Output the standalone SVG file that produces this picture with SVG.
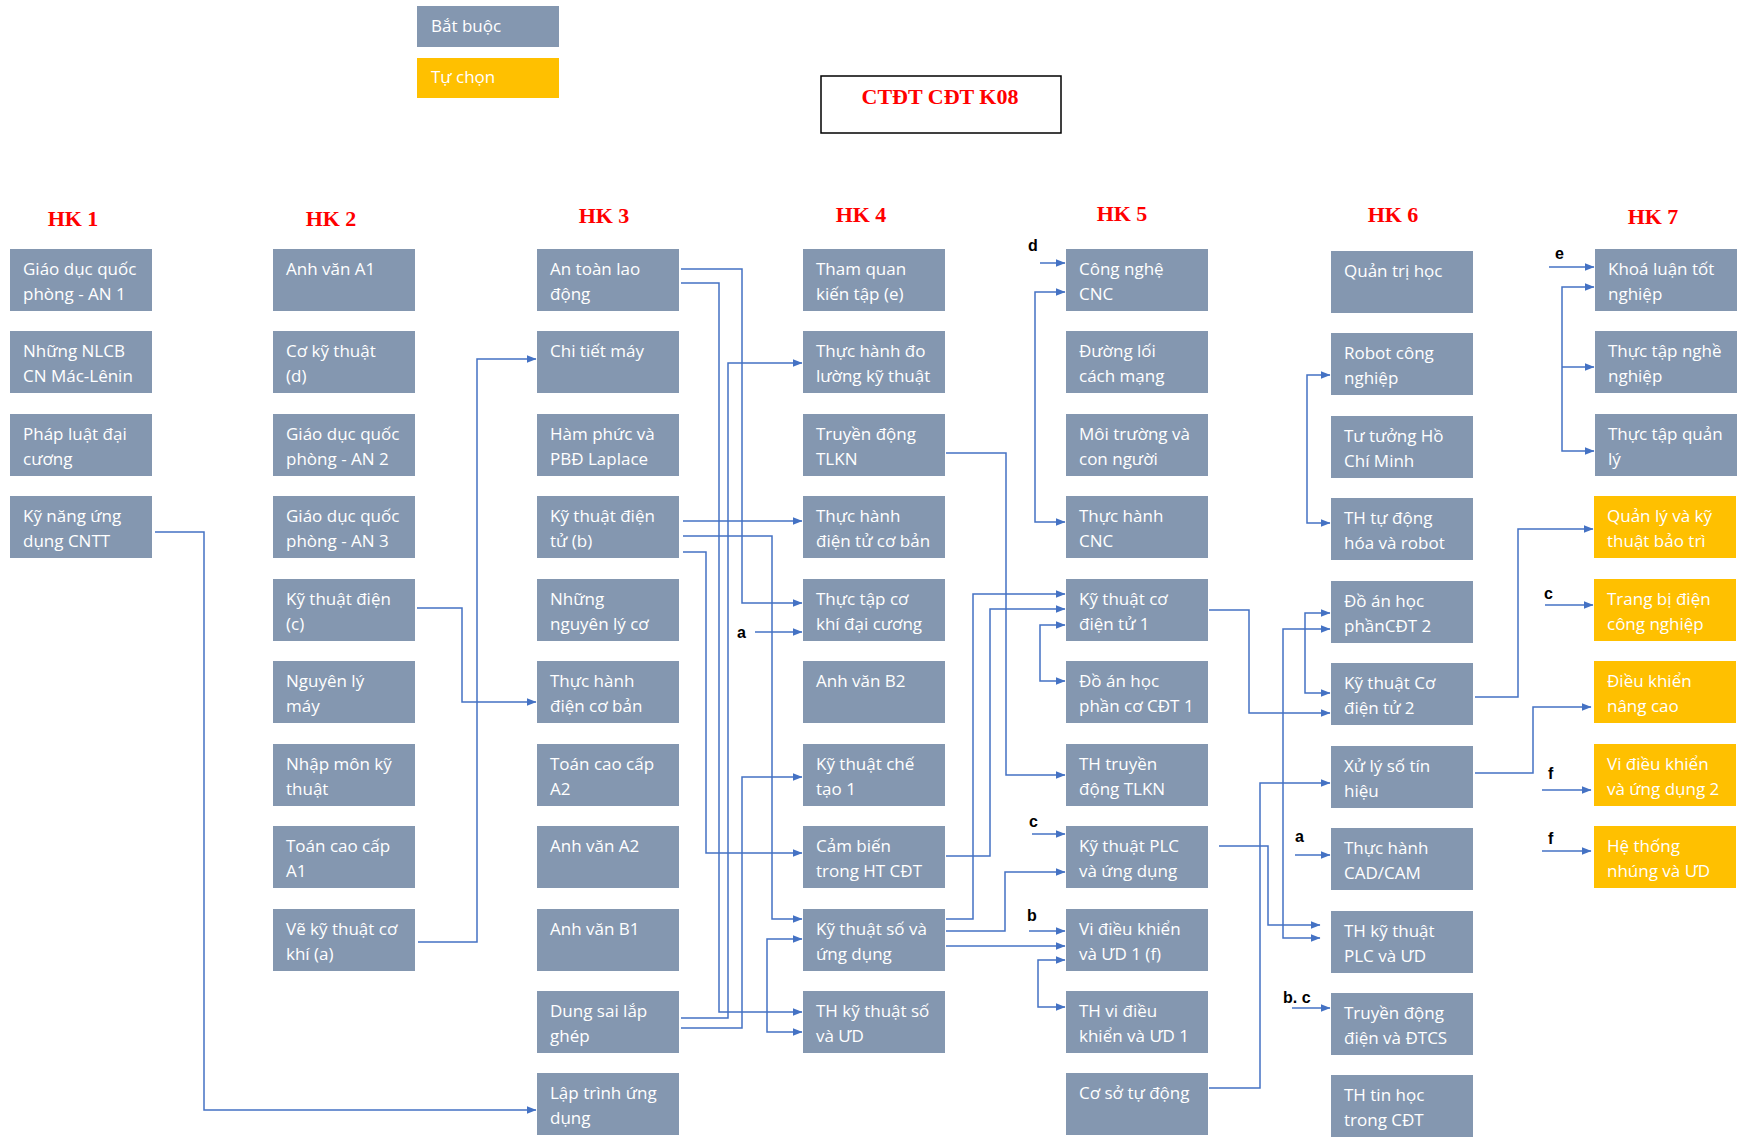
<svg xmlns="http://www.w3.org/2000/svg" width="1740" height="1138" viewBox="0 0 1740 1138">
<style>
.n rect{fill:#8497B0}
.o rect{fill:#FFC000}
.n text,.o text,.lg text{font-family:"Open Sans","Noto Sans","DejaVu Sans",sans-serif;font-size:17px;fill:#FFFFFF}
.hk{font-family:"Liberation Serif","Times New Roman",serif;font-weight:bold;font-size:22px;fill:#FF0000;text-anchor:middle}
.lb{font-family:"Liberation Sans",Arial,sans-serif;font-weight:bold;font-size:16px;fill:#000000}
.conn path{fill:none;stroke:#4472C4;stroke-width:1.5;marker-end:url(#arr)}
</style>
<defs>
<marker id="arr" markerUnits="userSpaceOnUse" markerWidth="10" markerHeight="8" refX="9.5" refY="4" orient="auto">
<path d="M0,0 L10,4 L0,8 z" fill="#4472C4"/>
</marker>
</defs>
<rect width="1740" height="1138" fill="#FFFFFF"/>

<!-- Legend -->
<g id="legend" class="lg">
<rect x="417" y="6" width="142" height="41" fill="#8497B0"/>
<text x="431" y="32">Bắt buộc</text>
<rect x="417" y="58" width="142" height="40" fill="#FFC000"/>
<text x="431" y="83">Tự chọn</text>
</g>

<!-- Title -->
<g id="title">
<rect x="821" y="76" width="240" height="57" fill="#FFFFFF" stroke="#000000" stroke-width="1.5"/>
<text class="hk" x="940" y="104">CTĐT CĐT K08</text>
</g>

<!-- Semester headers -->
<g id="headers">
<text class="hk" x="73" y="226">HK 1</text>
<text class="hk" x="331" y="226">HK 2</text>
<text class="hk" x="604" y="223">HK 3</text>
<text class="hk" x="861" y="222">HK 4</text>
<text class="hk" x="1122" y="221">HK 5</text>
<text class="hk" x="1393" y="222">HK 6</text>
<text class="hk" x="1653" y="224">HK 7</text>
</g>

<!-- HK1 -->
<g id="hk1-1" class="n" transform="translate(10,249)"><rect width="142" height="62"/><text x="13" y="26">Giáo dục quốc</text><text x="13" y="51">phòng - AN 1</text></g>
<g id="hk1-2" class="n" transform="translate(10,331)"><rect width="142" height="62"/><text x="13" y="26">Những NLCB</text><text x="13" y="51">CN Mác-Lênin</text></g>
<g id="hk1-3" class="n" transform="translate(10,414)"><rect width="142" height="62"/><text x="13" y="26">Pháp luật đại</text><text x="13" y="51">cương</text></g>
<g id="hk1-4" class="n" transform="translate(10,496)"><rect width="142" height="62"/><text x="13" y="26">Kỹ năng ứng</text><text x="13" y="51">dụng CNTT</text></g>

<!-- HK2 -->
<g id="hk2-1" class="n" transform="translate(273,249)"><rect width="142" height="62"/><text x="13" y="26">Anh văn A1</text></g>
<g id="hk2-2" class="n" transform="translate(273,331)"><rect width="142" height="62"/><text x="13" y="26">Cơ kỹ thuật</text><text x="13" y="51">(d)</text></g>
<g id="hk2-3" class="n" transform="translate(273,414)"><rect width="142" height="62"/><text x="13" y="26">Giáo dục quốc</text><text x="13" y="51">phòng - AN 2</text></g>
<g id="hk2-4" class="n" transform="translate(273,496)"><rect width="142" height="62"/><text x="13" y="26">Giáo dục quốc</text><text x="13" y="51">phòng - AN 3</text></g>
<g id="hk2-5" class="n" transform="translate(273,579)"><rect width="142" height="62"/><text x="13" y="26">Kỹ thuật điện</text><text x="13" y="51">(c)</text></g>
<g id="hk2-6" class="n" transform="translate(273,661)"><rect width="142" height="62"/><text x="13" y="26">Nguyên lý</text><text x="13" y="51">máy</text></g>
<g id="hk2-7" class="n" transform="translate(273,744)"><rect width="142" height="62"/><text x="13" y="26">Nhập môn kỹ</text><text x="13" y="51">thuật</text></g>
<g id="hk2-8" class="n" transform="translate(273,826)"><rect width="142" height="62"/><text x="13" y="26">Toán cao cấp</text><text x="13" y="51">A1</text></g>
<g id="hk2-9" class="n" transform="translate(273,909)"><rect width="142" height="62"/><text x="13" y="26">Vẽ kỹ thuật cơ</text><text x="13" y="51">khí (a)</text></g>

<!-- HK3 -->
<g id="hk3-1" class="n" transform="translate(537,249)"><rect width="142" height="62"/><text x="13" y="26">An toàn lao</text><text x="13" y="51">động</text></g>
<g id="hk3-2" class="n" transform="translate(537,331)"><rect width="142" height="62"/><text x="13" y="26">Chi tiết máy</text></g>
<g id="hk3-3" class="n" transform="translate(537,414)"><rect width="142" height="62"/><text x="13" y="26">Hàm phức và</text><text x="13" y="51">PBĐ Laplace</text></g>
<g id="hk3-4" class="n" transform="translate(537,496)"><rect width="142" height="62"/><text x="13" y="26">Kỹ thuật điện</text><text x="13" y="51">tử (b)</text></g>
<g id="hk3-5" class="n" transform="translate(537,579)"><rect width="142" height="62"/><text x="13" y="26">Những</text><text x="13" y="51">nguyên lý cơ</text></g>
<g id="hk3-6" class="n" transform="translate(537,661)"><rect width="142" height="62"/><text x="13" y="26">Thực hành</text><text x="13" y="51">điện cơ bản</text></g>
<g id="hk3-7" class="n" transform="translate(537,744)"><rect width="142" height="62"/><text x="13" y="26">Toán cao cấp</text><text x="13" y="51">A2</text></g>
<g id="hk3-8" class="n" transform="translate(537,826)"><rect width="142" height="62"/><text x="13" y="26">Anh văn A2</text></g>
<g id="hk3-9" class="n" transform="translate(537,909)"><rect width="142" height="62"/><text x="13" y="26">Anh văn B1</text></g>
<g id="hk3-10" class="n" transform="translate(537,991)"><rect width="142" height="62"/><text x="13" y="26">Dung sai lắp</text><text x="13" y="51">ghép</text></g>
<g id="hk3-11" class="n" transform="translate(537,1073)"><rect width="142" height="62"/><text x="13" y="26">Lập trình ứng</text><text x="13" y="51">dụng</text></g>

<!-- HK4 -->
<g id="hk4-1" class="n" transform="translate(803,249)"><rect width="142" height="62"/><text x="13" y="26">Tham quan</text><text x="13" y="51">kiến tập (e)</text></g>
<g id="hk4-2" class="n" transform="translate(803,331)"><rect width="142" height="62"/><text x="13" y="26">Thực hành đo</text><text x="13" y="51">lường kỹ thuật</text></g>
<g id="hk4-3" class="n" transform="translate(803,414)"><rect width="142" height="62"/><text x="13" y="26">Truyền động</text><text x="13" y="51">TLKN</text></g>
<g id="hk4-4" class="n" transform="translate(803,496)"><rect width="142" height="62"/><text x="13" y="26">Thực hành</text><text x="13" y="51">điện tử cơ bản</text></g>
<g id="hk4-5" class="n" transform="translate(803,579)"><rect width="142" height="62"/><text x="13" y="26">Thực tập cơ</text><text x="13" y="51">khí đại cương</text></g>
<g id="hk4-6" class="n" transform="translate(803,661)"><rect width="142" height="62"/><text x="13" y="26">Anh văn B2</text></g>
<g id="hk4-7" class="n" transform="translate(803,744)"><rect width="142" height="62"/><text x="13" y="26">Kỹ thuật chế</text><text x="13" y="51">tạo 1</text></g>
<g id="hk4-8" class="n" transform="translate(803,826)"><rect width="142" height="62"/><text x="13" y="26">Cảm biến</text><text x="13" y="51">trong HT CĐT</text></g>
<g id="hk4-9" class="n" transform="translate(803,909)"><rect width="142" height="62"/><text x="13" y="26">Kỹ thuật số và</text><text x="13" y="51">ứng dụng</text></g>
<g id="hk4-10" class="n" transform="translate(803,991)"><rect width="142" height="62"/><text x="13" y="26">TH kỹ thuật số</text><text x="13" y="51">và ƯD</text></g>

<!-- HK5 -->
<g id="hk5-1" class="n" transform="translate(1066,249)"><rect width="142" height="62"/><text x="13" y="26">Công nghệ</text><text x="13" y="51">CNC</text></g>
<g id="hk5-2" class="n" transform="translate(1066,331)"><rect width="142" height="62"/><text x="13" y="26">Đường lối</text><text x="13" y="51">cách mạng</text></g>
<g id="hk5-3" class="n" transform="translate(1066,414)"><rect width="142" height="62"/><text x="13" y="26">Môi trường và</text><text x="13" y="51">con người</text></g>
<g id="hk5-4" class="n" transform="translate(1066,496)"><rect width="142" height="62"/><text x="13" y="26">Thực hành</text><text x="13" y="51">CNC</text></g>
<g id="hk5-5" class="n" transform="translate(1066,579)"><rect width="142" height="62"/><text x="13" y="26">Kỹ thuật cơ</text><text x="13" y="51">điện tử 1</text></g>
<g id="hk5-6" class="n" transform="translate(1066,661)"><rect width="142" height="62"/><text x="13" y="26">Đồ án học</text><text x="13" y="51">phần cơ CĐT 1</text></g>
<g id="hk5-7" class="n" transform="translate(1066,744)"><rect width="142" height="62"/><text x="13" y="26">TH truyền</text><text x="13" y="51">động TLKN</text></g>
<g id="hk5-8" class="n" transform="translate(1066,826)"><rect width="142" height="62"/><text x="13" y="26">Kỹ thuật PLC</text><text x="13" y="51">và ứng dụng</text></g>
<g id="hk5-9" class="n" transform="translate(1066,909)"><rect width="142" height="62"/><text x="13" y="26">Vi điều khiển</text><text x="13" y="51">và ƯD 1 (f)</text></g>
<g id="hk5-10" class="n" transform="translate(1066,991)"><rect width="142" height="62"/><text x="13" y="26">TH vi điều</text><text x="13" y="51">khiển và ƯD 1</text></g>
<g id="hk5-11" class="n" transform="translate(1066,1073)"><rect width="142" height="62"/><text x="13" y="26">Cơ sở tự động</text></g>

<!-- HK6 -->
<g id="hk6-1" class="n" transform="translate(1331,251)"><rect width="142" height="62"/><text x="13" y="26">Quản trị học</text></g>
<g id="hk6-2" class="n" transform="translate(1331,333)"><rect width="142" height="62"/><text x="13" y="26">Robot công</text><text x="13" y="51">nghiệp</text></g>
<g id="hk6-3" class="n" transform="translate(1331,416)"><rect width="142" height="62"/><text x="13" y="26">Tư tưởng Hồ</text><text x="13" y="51">Chí Minh</text></g>
<g id="hk6-4" class="n" transform="translate(1331,498)"><rect width="142" height="62"/><text x="13" y="26">TH tự động</text><text x="13" y="51">hóa và robot</text></g>
<g id="hk6-5" class="n" transform="translate(1331,581)"><rect width="142" height="62"/><text x="13" y="26">Đồ án học</text><text x="13" y="51">phầnCĐT 2</text></g>
<g id="hk6-6" class="n" transform="translate(1331,663)"><rect width="142" height="62"/><text x="13" y="26">Kỹ thuật Cơ</text><text x="13" y="51">điện tử 2</text></g>
<g id="hk6-7" class="n" transform="translate(1331,746)"><rect width="142" height="62"/><text x="13" y="26">Xử lý số tín</text><text x="13" y="51">hiệu</text></g>
<g id="hk6-8" class="n" transform="translate(1331,828)"><rect width="142" height="62"/><text x="13" y="26">Thực hành</text><text x="13" y="51">CAD/CAM</text></g>
<g id="hk6-9" class="n" transform="translate(1331,911)"><rect width="142" height="62"/><text x="13" y="26">TH kỹ thuật</text><text x="13" y="51">PLC và ƯD</text></g>
<g id="hk6-10" class="n" transform="translate(1331,993)"><rect width="142" height="62"/><text x="13" y="26">Truyền động</text><text x="13" y="51">điện và ĐTCS</text></g>
<g id="hk6-11" class="n" transform="translate(1331,1075)"><rect width="142" height="62"/><text x="13" y="26">TH tin học</text><text x="13" y="51">trong CĐT</text></g>

<!-- HK7 -->
<g id="hk7-1" class="n" transform="translate(1595,249)"><rect width="142" height="62"/><text x="13" y="26">Khoá luận tốt</text><text x="13" y="51">nghiệp</text></g>
<g id="hk7-2" class="n" transform="translate(1595,331)"><rect width="142" height="62"/><text x="13" y="26">Thực tập nghề</text><text x="13" y="51">nghiệp</text></g>
<g id="hk7-3" class="n" transform="translate(1595,414)"><rect width="142" height="62"/><text x="13" y="26">Thực tập quản</text><text x="13" y="51">lý</text></g>
<g id="hk7-4" class="o" transform="translate(1594,496)"><rect width="142" height="62"/><text x="13" y="26">Quản lý và kỹ</text><text x="13" y="51">thuật bảo trì</text></g>
<g id="hk7-5" class="o" transform="translate(1594,579)"><rect width="142" height="62"/><text x="13" y="26">Trang bị điện</text><text x="13" y="51">công nghiệp</text></g>
<g id="hk7-6" class="o" transform="translate(1594,661)"><rect width="142" height="62"/><text x="13" y="26">Điều khiển</text><text x="13" y="51">nâng cao</text></g>
<g id="hk7-7" class="o" transform="translate(1594,744)"><rect width="142" height="62"/><text x="13" y="26">Vi điều khiển</text><text x="13" y="51">và ứng dụng 2</text></g>
<g id="hk7-8" class="o" transform="translate(1594,826)"><rect width="142" height="62"/><text x="13" y="26">Hệ thống</text><text x="13" y="51">nhúng và ƯD</text></g>

<!-- Connectors -->
<g id="connectors" class="conn">
<path d="M155,532 H204 V1110 H536"/>
<path d="M417,608 H462 V702 H536"/>
<path d="M418,942 H477 V359 H536"/>

<path d="M681,269 H742 V603 H802"/>
<path d="M681,283 H719 V1012 H802"/>
<path d="M683,521 H802"/>
<path d="M683,536 H772 V919 H802"/>
<path d="M683,552 H706 V853 H802"/>
<path d="M681,1018 H728 V363 H802"/>
<path d="M681,1028 H742 V777 H802"/>
<path d="M767,985 V939 H802"/>
<path d="M767,985 V1032 H802"/>
<path d="M755,632 H802"/>

<path d="M1040,263 H1065"/>
<path d="M1035,400 V292 H1065"/>
<path d="M1035,400 V522 H1065"/>
<path d="M946,453 H1006 V775 H1065"/>
<path d="M946,919 H973 V594 H1065"/>
<path d="M946,856 H990 V609 H1065"/>
<path d="M1040,650 V625 H1065"/>
<path d="M1040,650 V681 H1065"/>
<path d="M946,931 H1005 V872 H1065"/>
<path d="M946,946 H1065"/>
<path d="M1032,834 H1065"/>
<path d="M1029,931 H1065"/>
<path d="M1038,985 V960 H1065"/>
<path d="M1038,985 V1007 H1065"/>

<path d="M1209,610 H1249 V713 H1330"/>
<path d="M1305,650 V613 H1330"/>
<path d="M1305,650 V693 H1330"/>
<path d="M1283,780 V629 H1330"/>
<path d="M1283,780 V938 H1320"/>
<path d="M1219,846 H1268 V925 H1320"/>
<path d="M1209,1088 H1260 V783 H1330"/>
<path d="M1307,450 V375 H1330"/>
<path d="M1307,450 V523 H1330"/>
<path d="M1295,855 H1330"/>
<path d="M1292,1008 H1330"/>

<path d="M1475,697 H1518 V529 H1593"/>
<path d="M1475,773 H1533 V707 H1591"/>
<path d="M1549,267 H1594"/>
<path d="M1562,367 V287 H1594"/>
<path d="M1562,367 H1594"/>
<path d="M1562,367 V451 H1594"/>
<path d="M1545,605 H1593"/>
<path d="M1542,790 H1591"/>
<path d="M1542,851 H1591"/>
</g>

<!-- Connector labels -->
<g id="labels">
<text class="lb" x="1028" y="251">d</text>
<text class="lb" x="737" y="638">a</text>
<text class="lb" x="1029" y="827">c</text>
<text class="lb" x="1027" y="921">b</text>
<text class="lb" x="1295" y="842">a</text>
<text class="lb" x="1283" y="1003">b. c</text>
<text class="lb" x="1555" y="259">e</text>
<text class="lb" x="1544" y="599">c</text>
<text class="lb" x="1548" y="779">f</text>
<text class="lb" x="1548" y="844">f</text>
</g>
</svg>
